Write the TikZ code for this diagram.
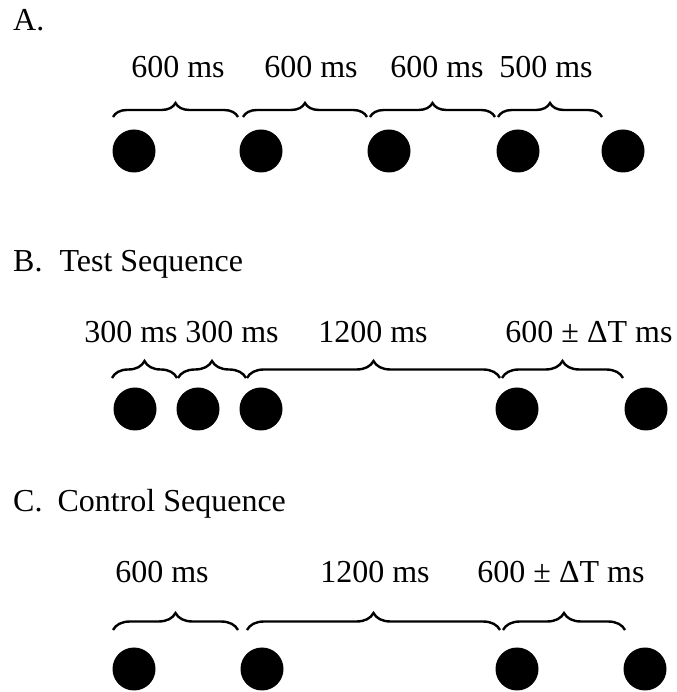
\documentclass[tikz,border=0pt]{standalone}
\usepackage{fontspec}
\setmainfont{Liberation Serif}
\usetikzlibrary{decorations.pathreplacing}
\begin{document}
\begin{tikzpicture}[x=1pt,y=1pt,
  lbl/.style={inner sep=0pt, anchor=base, font=\fontsize{32}{38}\selectfont},
  head/.style={inner sep=0pt, anchor=base west, font=\fontsize{32}{38}\selectfont},
  dot/.style={circle, fill=black, minimum size=43pt, inner sep=0pt},
  brc/.style={decorate, line width=2.4pt, decoration={brace, amplitude=#1}},
  brc/.default=15pt]
\useasboundingbox (0,0) rectangle (676,692);
% headings
\node[head] (hA) at (13,661) {A.};
\node[head] (hB) at (13,420) {B.\hspace{9pt} Test Sequence};
\node[head] (hC) at (13,180) {C.\hspace{7pt} Control Sequence};
% row A
\node[dot] (a1) at (134,541) {};
\node[dot] (a2) at (261,541) {};
\node[dot] (a3) at (389,541) {};
\node[dot] (a4) at (518,541) {};
\node[dot] (a5) at (623,541) {};
\coordinate (ba0) at (113,575);
\coordinate (ba1) at (238,575);
\coordinate (ba2) at (243,575);
\coordinate (ba3) at (367,575);
\coordinate (ba4) at (370,575);
\coordinate (ba5) at (495,575);
\coordinate (ba6) at (498,575);
\coordinate (ba7) at (602,575);
\draw[brc=14pt] (ba0) -- (ba1);
\draw[brc=14pt] (ba2) -- (ba3);
\draw[brc=14pt] (ba4) -- (ba5);
\draw[brc=14pt] (ba6) -- (ba7);
\node[lbl] (la1) at (178,614) {600 ms};
\node[lbl] (la2) at (311,614) {600 ms};
\node[lbl] (la3) at (437,614) {600 ms};
\node[lbl] (la4) at (546,614) {500 ms};
% row B
\node[dot] (b1) at (135,283) {};
\node[dot] (b2) at (198,283) {};
\node[dot] (b3) at (261,283) {};
\node[dot] (b4) at (517,283) {};
\node[dot] (b5) at (646,283) {};
\coordinate (bb0) at (112,314);
\coordinate (bb1) at (177,314);
\coordinate (bb2) at (178,314);
\coordinate (bb3) at (246,314);
\coordinate (bb4) at (247,314);
\coordinate (bb5) at (500,314);
\coordinate (bb6) at (502,314);
\coordinate (bb7) at (623,314);
\draw[brc=17pt] (bb0) -- (bb1);
\draw[brc=17pt] (bb2) -- (bb3);
\draw[brc=17pt] (bb4) -- (bb5);
\draw[brc=17pt] (bb6) -- (bb7);
\node[lbl] (lb1) at (131,349) {300 ms};
\node[lbl] (lb2) at (232,349) {300 ms};
\node[lbl] (lb3) at (373,349) {1200 ms};
\node[lbl] (lb4) at (589,349) {600 ± ΔT ms};
% row C
\node[dot] (c1) at (134,23) {};
\node[dot] (c2) at (262,23) {};
\node[dot] (c3) at (517,23) {};
\node[dot] (c4) at (645,23) {};
\coordinate (bc0) at (113,62);
\coordinate (bc1) at (238,62);
\coordinate (bc2) at (247,62);
\coordinate (bc3) at (500,62);
\coordinate (bc4) at (503,62);
\coordinate (bc5) at (625,62);
\draw[brc=17pt] (bc0) -- (bc1);
\draw[brc=17pt] (bc2) -- (bc3);
\draw[brc=17pt] (bc4) -- (bc5);
\node[lbl] (lc1) at (162,109) {600 ms};
\node[lbl] (lc2) at (375,109) {1200 ms};
\node[lbl] (lc3) at (561,109) {600 ± ΔT ms};
\end{tikzpicture}
\end{document}
